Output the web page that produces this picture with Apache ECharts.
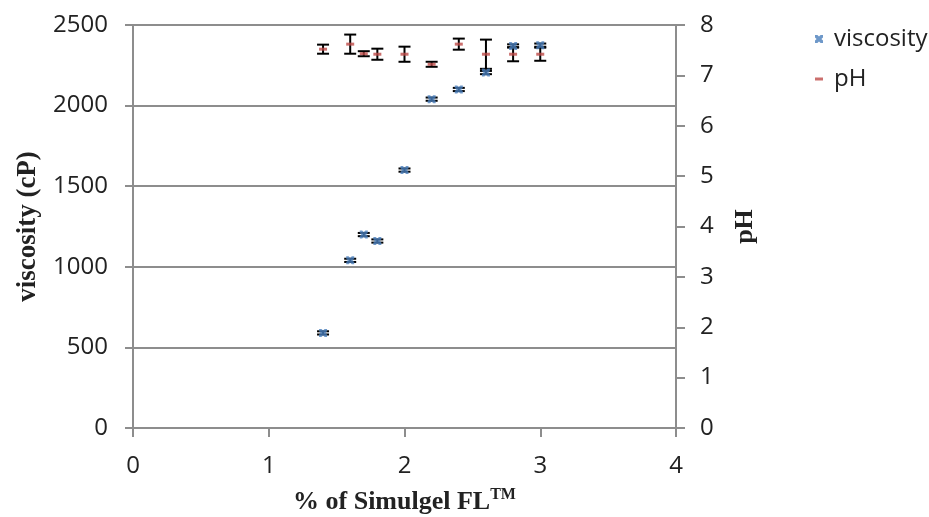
<!DOCTYPE html>
<html>
<head>
<meta charset="utf-8">
<script src="https://cdn.jsdelivr.net/npm/echarts@6/dist/echarts.min.js"></script>
<style>
html,body{margin:0;padding:0;background:#fff;}
#chart{width:929px;height:517px;}
</style>
</head>
<body>
<div id="chart"></div>
<script>
// ---- data ----
const concentration = [1.4, 1.6, 1.7, 1.8, 2.0, 2.2, 2.4, 2.6, 2.8, 3.0];
const viscosity     = [590, 1040, 1200, 1160, 1600, 2040, 2100, 2205, 2370, 2375];
const viscosityErr  = [10, 10, 10, 10, 10, 10, 10, 10, 10, 10];
const pH            = [7.52, 7.62, 7.43, 7.42, 7.42, 7.22, 7.62, 7.42, 7.42, 7.42];
const pHErr         = [0.09, 0.19, 0.05, 0.11, 0.15, 0.05, 0.11, 0.29, 0.14, 0.13];
const xTicks = [0, 1, 2, 3, 4];
const viscosityTicks = [0, 500, 1000, 1500, 2000, 2500];
const pHTicks = [0, 1, 2, 3, 4, 5, 6, 7, 8];

const GRAY = '#8d8d8d';
const TEXT = '#222222';
const SANS = '"Open Sans", "Noto Sans", sans-serif';
const SERIF = '"Liberation Serif", "DejaVu Serif", serif';
const X_SYMBOL = 'path://M0,0L3,0L5,2L7,0L10,0L10,3L8,5L10,7L10,10L7,10L5,8L3,10L0,10L0,7L2,5L0,3Z';
const DASH_SYMBOL = 'path://M0,0L8,0L8,3L0,3Z';

const viscData = concentration.map((c, i) => [c, viscosity[i], viscosityErr[i]]);
const pHData = concentration.map((c, i) => [c, pH[i], pHErr[i]]);

function errorBar(params, api) {
  const x = api.value(0), y = api.value(1), e = api.value(2);
  const top = api.coord([x, y + e]);
  const bot = api.coord([x, y - e]);
  const hw = 6;
  const st = { stroke: '#000', lineWidth: 2, fill: null };
  return {
    type: 'group',
    children: [
      { type: 'line', shape: { x1: top[0], y1: top[1], x2: bot[0], y2: bot[1] }, style: st },
      { type: 'line', shape: { x1: top[0] - hw, y1: top[1], x2: top[0] + hw, y2: top[1] }, style: st },
      { type: 'line', shape: { x1: bot[0] - hw, y1: bot[1], x2: bot[0] + hw, y2: bot[1] }, style: st }
    ]
  };
}

const plain = v => String(v);

const chart = echarts.init(document.getElementById('chart'), null, { renderer: 'canvas' });
chart.setOption({
  animation: false,
  backgroundColor: '#fff',
  grid: { left: 133, right: 253, top: 25, bottom: 89, containLabel: false, outerBoundsMode: 'none' },
  legend: {
    orient: 'vertical',
    left: 810, top: 22,
    itemWidth: 8, itemHeight: 8, itemGap: 16,
    textStyle: { fontFamily: SANS, fontSize: 24, color: TEXT, padding: [0, 0, 0, 6] },
    data: [
      { name: 'viscosity', icon: X_SYMBOL },
      { name: 'pH', icon: DASH_SYMBOL }
    ]
  },
  xAxis: {
    type: 'value', min: xTicks[0], max: xTicks[xTicks.length - 1], interval: 1,
    name: '% of Simulgel FL{tm|TM}', nameLocation: 'middle', nameGap: 59,
    nameTextStyle: {
      fontFamily: SERIF, fontWeight: 'bold', fontSize: 26, color: TEXT, lineHeight: 30,
      rich: { tm: { fontFamily: SERIF, fontWeight: 'bold', fontSize: 16, color: TEXT, verticalAlign: 'top', lineHeight: 18 } }
    },
    axisLine: { show: true, lineStyle: { color: GRAY, width: 2 } },
    axisTick: { show: true, length: 9, lineStyle: { color: GRAY, width: 2 } },
    axisLabel: { fontFamily: SANS, fontSize: 24, color: TEXT, margin: 26, formatter: plain },
    splitLine: { show: false }
  },
  yAxis: [
    {
      type: 'value', min: viscosityTicks[0], max: viscosityTicks[viscosityTicks.length - 1], interval: 500,
      name: 'viscosity (cP)', nameLocation: 'middle', nameGap: 91, nameRotate: 90,
      nameTextStyle: { fontFamily: SERIF, fontWeight: 'bold', fontSize: 27, color: TEXT },
      axisLine: { show: true, lineStyle: { color: GRAY, width: 2 } },
      axisTick: { show: true, length: 8, lineStyle: { color: GRAY, width: 2 } },
      axisLabel: { fontFamily: SANS, fontSize: 24, color: TEXT, margin: 25, formatter: plain },
      splitLine: { show: true, lineStyle: { color: GRAY, width: 2 } }
    },
    {
      type: 'value', position: 'right', min: pHTicks[0], max: pHTicks[pHTicks.length - 1], interval: 1,
      name: 'pH', nameLocation: 'middle', nameGap: 56, nameRotate: 90,
      nameTextStyle: { fontFamily: SERIF, fontWeight: 'bold', fontSize: 26, color: TEXT },
      axisLine: { show: true, lineStyle: { color: GRAY, width: 2 } },
      axisTick: { show: true, length: 9, lineStyle: { color: GRAY, width: 2 } },
      axisLabel: { fontFamily: SANS, fontSize: 24, color: TEXT, margin: 24, formatter: plain },
      splitLine: { show: false }
    }
  ],
  series: [
    {
      name: 'viscosityErr', type: 'custom', xAxisIndex: 0, yAxisIndex: 0,
      renderItem: errorBar, data: viscData, encode: { x: 0, y: 1 }, z: 2, silent: true
    },
    {
      name: 'pHErr', type: 'custom', xAxisIndex: 0, yAxisIndex: 1,
      renderItem: errorBar, data: pHData, encode: { x: 0, y: 1 }, z: 2, silent: true
    },
    {
      name: 'viscosity', type: 'scatter', xAxisIndex: 0, yAxisIndex: 0,
      symbol: X_SYMBOL, symbolSize: 8,
      itemStyle: { color: '#4a7ebb' },
      data: concentration.map((c, i) => [c, viscosity[i]]), z: 5
    },
    {
      name: 'pH', type: 'scatter', xAxisIndex: 0, yAxisIndex: 1,
      symbol: 'rect', symbolSize: [8, 3],
      itemStyle: { color: '#be4b48' },
      data: concentration.map((c, i) => [c, pH[i]]), z: 5
    }
  ]
});
</script>
</body>
</html>
